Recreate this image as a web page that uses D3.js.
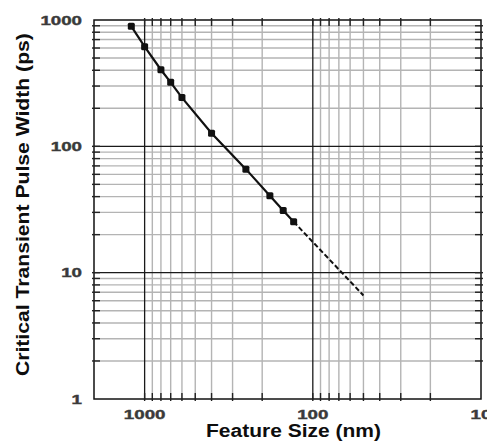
<!DOCTYPE html>
<html>
<head>
<meta charset="utf-8">
<script src="https://cdn.jsdelivr.net/npm/d3@7"></script>
<style>
  html, body { margin: 0; padding: 0; background: #fff; }
  svg { display: block; font-family: "Liberation Sans", Arial, sans-serif; }
</style>
</head>
<body>
<svg id="chart" width="487" height="448"></svg>
<script>
// measured points (feature size nm -> critical pulse width ps)
var featureSize = [1200, 1000, 800, 700, 600, 400, 250, 180, 150, 130];
var pulseWidth  = [891, 615, 404, 321, 243, 127, 66, 40.6, 31.1, 25.3];

// projected trend (dashed)
var trendSize  = [130, 50];
var trendWidth = [25.3, 6.6];

var xTickLabels = [1000, 100, 10];
var yTickLabels = [1, 10, 100, 1000];

var xTitle = "Feature Size (nm)";
var yTitle = "Critical Transient Pulse Width (ps)";

var svg = d3.select("#chart");

// plot box (note: "top" is taken by window.top, so use a prefix)
var pLeft = 94, pRight = 481, pTop = 20, pBottom = 399;

// x axis runs backwards: big features on the left
var x = d3.scaleLog().domain([2000, 10]).range([pLeft, pRight]);
var y = d3.scaleLog().domain([1, 1000]).range([pBottom, pTop]);

function isDecade(v){
  var l = Math.log10(v);
  return Math.abs(l - Math.round(l)) < 1e-9;
}

var xGrid = x.ticks().filter(function (v){ return v <= 1000 && v > 10; });
var yGrid = y.ticks().filter(function (v){ return v > 1 && v < 1000; });

var grid = svg.append("g");

// minor grid first, decades on top
grid.selectAll("line.xminor").data(xGrid.filter(function (v){ return !isDecade(v); }))
  .enter().append("line")
    .attr("x1", x).attr("x2", x)
    .attr("y1", pTop).attr("y2", pBottom)
    .style("stroke", "#b4b4b4").style("stroke-width", 1.4);

grid.selectAll("line.yminor").data(yGrid.filter(function (v){ return !isDecade(v); }))
  .enter().append("line")
    .attr("y1", y).attr("y2", y)
    .attr("x1", pLeft).attr("x2", pRight)
    .style("stroke", "#b4b4b4").style("stroke-width", 1.4);

grid.selectAll("line.xmajor").data(xGrid.filter(isDecade))
  .enter().append("line")
    .attr("x1", x).attr("x2", x)
    .attr("y1", pTop).attr("y2", pBottom)
    .style("stroke", "#1a1a1a").style("stroke-width", 1.3);

grid.selectAll("line.ymajor").data(yGrid.filter(isDecade))
  .enter().append("line")
    .attr("y1", y).attr("y2", y)
    .attr("x1", pLeft).attr("x2", pRight)
    .style("stroke", "#1a1a1a").style("stroke-width", 1.3);

// frame
svg.append("rect")
  .attr("x", pLeft).attr("y", pTop)
  .attr("width", pRight - pLeft).attr("height", pBottom - pTop)
  .style("fill", "none").style("stroke", "#111").style("stroke-width", 1.5);

// tick marks on all four sides (6 in, 2 out)
var ticks = svg.append("g").style("stroke", "#222").style("stroke-width", 1.4);
var tin = 6, tout = 2;

ticks.selectAll("line.xt").data(xGrid).enter().append("line")
  .attr("x1", x).attr("x2", x).attr("y1", pTop - tout).attr("y2", pTop + tin);
ticks.selectAll("line.xb").data(xGrid).enter().append("line")
  .attr("x1", x).attr("x2", x).attr("y1", pBottom - tin).attr("y2", pBottom + tout);
ticks.selectAll("line.yl").data(yGrid).enter().append("line")
  .attr("y1", y).attr("y2", y).attr("x1", pLeft - tout).attr("x2", pLeft + tin);
ticks.selectAll("line.yr").data(yGrid).enter().append("line")
  .attr("y1", y).attr("y2", y).attr("x1", pRight - tin).attr("x2", pRight + tout);

// data
var points = featureSize.map(function (d, i){ return [d, pulseWidth[i]]; });
var trend = trendSize.map(function (d, i){ return [d, trendWidth[i]]; });

var line = d3.line()
  .x(function (d){ return x(d[0]); })
  .y(function (d){ return y(d[1]); });

svg.append("path")
  .datum(trend)
  .attr("d", line)
  .style("fill", "none").style("stroke", "#111")
  .style("stroke-width", 2).style("stroke-dasharray", "5,2.5");

svg.append("path")
  .datum(points)
  .attr("d", line)
  .style("fill", "none").style("stroke", "#111").style("stroke-width", 2.2);

var s = 7;
svg.selectAll("rect.mark").data(points).enter().append("rect")
  .attr("x", function (d){ return x(d[0]) - s / 2; })
  .attr("y", function (d){ return y(d[1]) - s / 2; })
  .attr("width", s).attr("height", s)
  .attr("rx", 1.5)
  .style("fill", "#111");

// tick labels (source font is wide, so stretch them)
var charW = 10.4;

svg.selectAll("text.xl").data(xTickLabels).enter().append("text")
  .attr("x", x).attr("y", 419)
  .attr("text-anchor", "middle")
  .attr("textLength", function (d){ return String(d).length * charW; })
  .attr("lengthAdjust", "spacingAndGlyphs")
  .style("font-size", "13px").style("font-weight", "bold")
  .style("fill", "#3a3a3a").style("stroke", "#3a3a3a").style("stroke-width", 0.4)
  .text(function (d){ return d; });

svg.selectAll("text.yl").data(yTickLabels).enter().append("text")
  .attr("x", 82).attr("y", function (d){ return y(d) + 4.6; })
  .attr("text-anchor", "end")
  .attr("textLength", function (d){ return String(d).length * charW; })
  .attr("lengthAdjust", "spacingAndGlyphs")
  .style("font-size", "13px").style("font-weight", "bold")
  .style("fill", "#3a3a3a").style("stroke", "#3a3a3a").style("stroke-width", 0.4)
  .text(function (d){ return d; });

// axis titles
svg.append("text")
  .attr("x", 293.5).attr("y", 437)
  .attr("text-anchor", "middle")
  .attr("textLength", 175).attr("lengthAdjust", "spacingAndGlyphs")
  .style("font-size", "18px").style("font-weight", "bold").style("fill", "#0d0d0d")
  .text(xTitle);

svg.append("text")
  .attr("transform", "translate(28.5,204.6) rotate(-90)")
  .attr("text-anchor", "middle")
  .attr("textLength", 343).attr("lengthAdjust", "spacingAndGlyphs")
  .style("font-size", "18px").style("font-weight", "bold").style("fill", "#0d0d0d")
  .text(yTitle);
</script>
</body>
</html>
